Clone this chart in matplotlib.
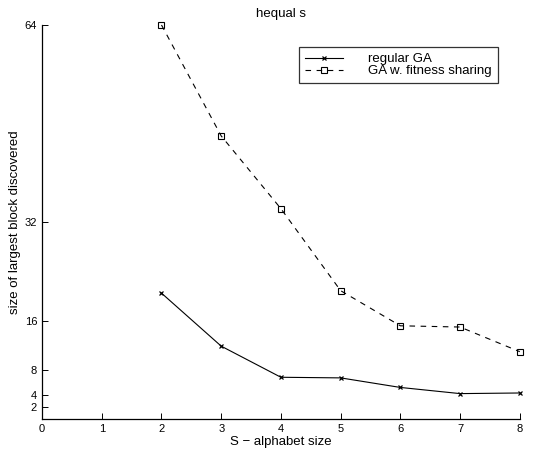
import numpy as np
import matplotlib
matplotlib.use('Agg')
import matplotlib.pyplot as plt

plt.rcParams['font.family'] = ['Liberation Sans', 'DejaVu Sans']

# data
alphabet = [2, 3, 4, 5, 6, 7, 8]
regular_ga = [20.5, 11.9, 6.85, 6.75, 5.2, 4.2, 4.3]
fitness_sharing = [64.0, 46.0, 34.2, 20.9, 15.2, 15.0, 11.0]
y_ticks = [2, 4, 8, 16, 32, 64]
x_ticks = [0, 1, 2, 3, 4, 5, 6, 7, 8]

fig = plt.figure(figsize=(5.46, 4.54), dpi=100)
ax = fig.add_axes([0.077, 0.076, 0.875, 0.869])

ax.plot(alphabet, regular_ga, 'k-x', lw=0.8, ms=3.5, mew=0.9,
        clip_on=False, label='regular GA')
ax.plot(alphabet, fitness_sharing, 'k--s', lw=0.8, ms=4.5, mew=0.8,
        mfc='none', dashes=(5, 5), clip_on=False, label='GA w. fitness sharing')

ax.set_xlim(0, 8)
ax.set_ylim(0, 64)
ax.set_xticks(x_ticks)
ax.set_yticks(y_ticks)
ax.tick_params(direction='in', length=4, labelsize=8, width=0.7)
ax.spines['top'].set_visible(False)
ax.spines['right'].set_visible(False)
ax.spines['left'].set_linewidth(0.9)
ax.spines['bottom'].set_linewidth(0.9)

ax.set_xlabel('S \u2212 alphabet size', fontsize=9.5, labelpad=1)
ax.set_ylabel('size of largest block discovered', fontsize=9.5, labelpad=3)
ax.set_title('hequal s', fontsize=9.5, pad=6)

leg = ax.legend(loc='upper right', bbox_to_anchor=(0.954, 0.944), fontsize=9.5,
                frameon=True, fancybox=False, edgecolor='k',
                handlelength=2.9, borderpad=0.45, labelspacing=0.0,
                handletextpad=1.9, borderaxespad=0)
leg.get_frame().set_linewidth(0.9)

plt.savefig('out.png', dpi=100)
